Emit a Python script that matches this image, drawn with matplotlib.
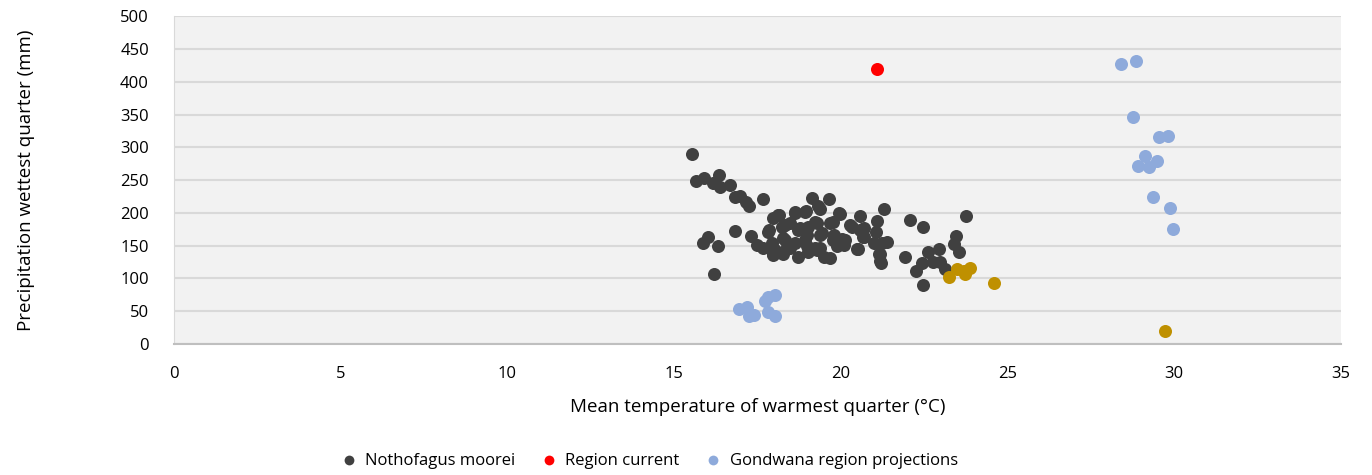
import matplotlib
matplotlib.use("Agg")
import matplotlib.pyplot as plt

# Nothofagus moorei occurrences (temperature degC, precipitation mm)
notho_temp = [15.55, 15.66, 15.91, 16.35, 16.16, 16.38, 16.69, 16.84, 16.98, 17.16,
              17.24, 17.68, 16.83, 16.03, 15.88, 16.33, 16.20, 17.32, 17.84, 17.50,
              17.67, 18.03, 17.97, 17.97, 18.15, 18.33, 18.27, 18.63, 18.96, 19.14,
              19.63, 19.36, 19.22, 19.93, 19.77, 20.56, 21.28, 21.08, 21.04, 21.37,
              20.98, 21.16, 21.20, 20.50, 19.68, 20.08, 20.02, 20.67, 20.58, 20.33,
              22.07, 22.47, 21.93, 23.76, 23.45, 23.40, 23.53, 22.60, 22.93, 22.44,
              22.24, 22.77, 22.97, 23.13, 22.47, 18.39, 18.48, 18.98, 19.28, 18.78,
              18.98, 19.42, 19.77, 20.08, 19.88, 18.13, 18.63, 18.93, 19.33, 17.83,
              18.23, 18.48, 18.73, 19.03, 19.28, 19.38, 17.93, 18.33, 18.63, 18.93,
              19.23, 17.98, 18.28, 18.73, 19.03, 19.48, 19.98, 20.28, 20.68, 19.78,
              20.13, 20.68, 19.38, 20.48, 21.22, 21.13, 21.18, 19.68]
notho_prec = [290, 249, 254, 258, 246, 239, 243, 224, 226, 217,
              211, 222, 173, 164, 154, 150, 107, 165, 174, 151,
              146, 143, 136, 192, 197, 182, 162, 202, 203, 223,
              222, 206, 187, 200, 187, 195, 206, 188, 171, 155,
              154, 138, 124, 145, 131, 151, 161, 164, 174, 178,
              189, 179, 133, 195, 165, 152, 140, 140, 145, 124,
              112, 125, 125, 114, 90, 148, 147, 149, 144, 177,
              166, 169, 159, 159, 149, 197, 200, 202, 210, 171,
              179, 184, 174, 179, 184, 166, 154, 159, 154, 159,
              146, 138, 138, 133, 140, 133, 199, 182, 177, 166,
              159, 164, 146, 145, 154, 138, 126, 184]

# Region current
region_temp = [21.09]
region_prec = [420]

# Gondwana region projections
gond_temp = [16.95, 17.18, 17.26, 17.41, 17.73, 17.83, 18.03, 17.83, 18.03,
             28.40, 28.85, 28.77, 29.54, 29.80, 29.13, 29.47, 28.92, 29.25,
             29.36, 29.86, 29.95]
gond_prec = [53, 57, 42, 45, 65, 71, 75, 49, 42,
             427, 432, 346, 316, 318, 287, 279, 271, 270,
             224, 208, 176]

# unlabelled series (gold)
other_temp = [23.23, 23.47, 23.73, 23.86, 23.70, 24.60, 29.72]
other_prec = [102, 115, 107, 116, 112, 93, 20]

plt.rcParams['font.family'] = ['Open Sans', 'DejaVu Sans']

fig = plt.figure(figsize=(13.72, 4.75), dpi=100)
ax = fig.add_axes([0.1268, 0.2758, 0.8506, 0.6895])
ax.set_facecolor('#f2f2f2')

ms = 88
ax.scatter(notho_temp, notho_prec, s=ms, color='#404040', label='Nothofagus moorei', zorder=3, linewidths=0)
ax.scatter(region_temp, region_prec, s=ms, color='#ff0000', label='Region current', zorder=3, linewidths=0)
ax.scatter(gond_temp, gond_prec, s=ms, color='#8eaadb', label='Gondwana region projections', zorder=3, linewidths=0)
ax.scatter(other_temp, other_prec, s=ms, color='#bf9000', label='_nolegend_', zorder=3, linewidths=0)

ax.set_xlim(0, 35)
ax.set_ylim(0, 500)
ax.set_xticks(range(0, 36, 5))
ax.set_yticks(range(0, 501, 50))
ax.grid(axis='y', color='#d9d9d9', linewidth=1.5, zorder=0)
ax.set_axisbelow(True)
ax.tick_params(length=0, labelsize=12, colors='#000000')
ax.tick_params(axis='x', pad=16)
ax.tick_params(axis='y', pad=18)

for side in ['top', 'right']:
    ax.spines[side].set_visible(False)
ax.spines['left'].set_color('#d9d9d9')
ax.spines['bottom'].set_color('#bfbfbf')
ax.spines['bottom'].set_linewidth(1.5)

ax.set_xlabel('Mean temperature of warmest quarter (°C)', fontsize=13.5)
ax.set_ylabel('Precipitation wettest quarter (mm)', fontsize=13.5)
ax.xaxis.set_label_coords(0.5, -0.165)
ax.yaxis.set_label_coords(-0.119, 0.5)

fig.legend(loc='center', bbox_to_anchor=(0.47, 0.03), ncol=3, frameon=False,
           fontsize=12, handletextpad=0.0, columnspacing=1.0, markerscale=0.75)

fig.savefig('out.png', dpi=100)
